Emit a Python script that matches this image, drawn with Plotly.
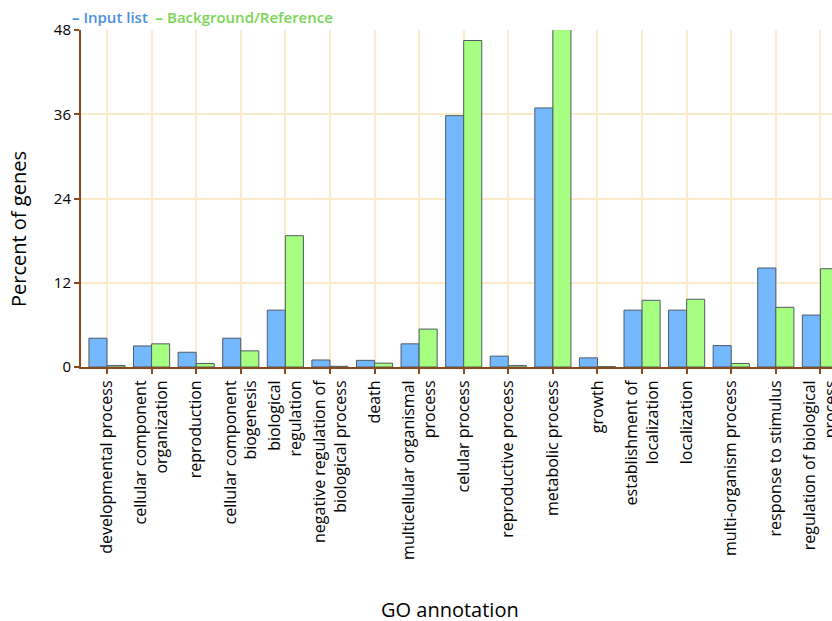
import plotly.graph_objects as go

categories = [
    "developmental process",
    "cellular component<br>organization",
    "reproduction",
    "cellular component<br>biogenesis",
    "biological<br>regulation",
    "negative regulation of<br>biological process",
    "death",
    "multicellular organismal<br>process",
    "celular process",
    "reproductive process",
    "metabolic process",
    "growth",
    "establishment of<br>localization",
    "localization",
    "multi-organism process",
    "response to stimulus",
    "regulation of biological<br>process",
]
input_list = [4.1, 3.0, 2.1, 4.1, 8.1, 1.0, 0.95, 3.3, 35.8, 1.55, 36.9, 1.3, 8.1, 8.1, 3.05, 14.1, 7.4]
background = [0.2, 3.3, 0.5, 2.3, 18.7, 0.1, 0.55, 5.4, 46.5, 0.2, 48.1, 0.05, 9.5, 9.65, 0.5, 8.5, 14.0]
y_ticks = [0, 12, 24, 36, 48]

BLUE = "#74B8FF"
GREEN = "#A6FF80"
AXIS = "#8B4A1E"
GRID = "#FBEBC8"

fig = go.Figure()
fig.add_trace(go.Bar(x=categories, y=input_list, name="Input list", marker=dict(color=BLUE, line=dict(color="#4f5a66", width=1)), showlegend=False))
fig.add_trace(go.Bar(x=categories, y=background, name="Background/Reference", marker=dict(color=GREEN, line=dict(color="#4f5a66", width=1)), showlegend=False))

fig.update_layout(
    width=832, height=621,
    margin=dict(l=81, r=0, t=30, b=254),
    paper_bgcolor="white", plot_bgcolor="white",
    barmode="group", bargap=0.19, bargroupgap=0,
    font=dict(family="Open Sans", color="#000000", size=15),
    annotations=[
        dict(text="<b><span style='color:#3C8FE6'>–</span></b> <span style='color:#4A8FE0'>Input list</span>  <b><span style='color:#6EDB45'>–</span></b> <span style='color:#78D653'>Background/Reference</span>",
             xref="paper", yref="paper", x=-0.015, y=1.003, xanchor="left", yanchor="bottom",
             showarrow=False, font=dict(size=15, family="Open Sans", weight=600)),
        dict(text="Percent of genes", textangle=-90, xref="paper", yref="paper",
             x=-0.081, y=0.41, xanchor="center", yanchor="middle", xshift=-1,
             showarrow=False, font=dict(size=20, family="Open Sans", color="#000000")),
        dict(text="GO annotation", xref="paper", yref="paper",
             x=0.4918, y=-0.72, xanchor="center", yanchor="middle",
             showarrow=False, font=dict(size=20, family="Open Sans", color="#000000")),
    ],
)
fig.update_xaxes(
    type="category", range=[-0.583, 16.26],
    tickangle=-90, tickfont=dict(size=16, color="#000000"),
    ticks="outside", ticklen=5, tickcolor=AXIS, tickwidth=1.5,
    showgrid=True, gridcolor=GRID, gridwidth=1.5,
    showline=True, linecolor=AXIS, linewidth=2,
    automargin=False,
)
fig.update_yaxes(
    range=[0, 48], tickvals=y_ticks, tickfont=dict(size=15, color="#000000"),
    ticks="outside", ticklen=5, tickcolor=AXIS, tickwidth=1.5,
    showgrid=True, gridcolor=GRID, gridwidth=1.5,
    showline=True, linecolor=AXIS, linewidth=2,
    zeroline=False,
    automargin=False,
)
fig.write_html("out.html")
